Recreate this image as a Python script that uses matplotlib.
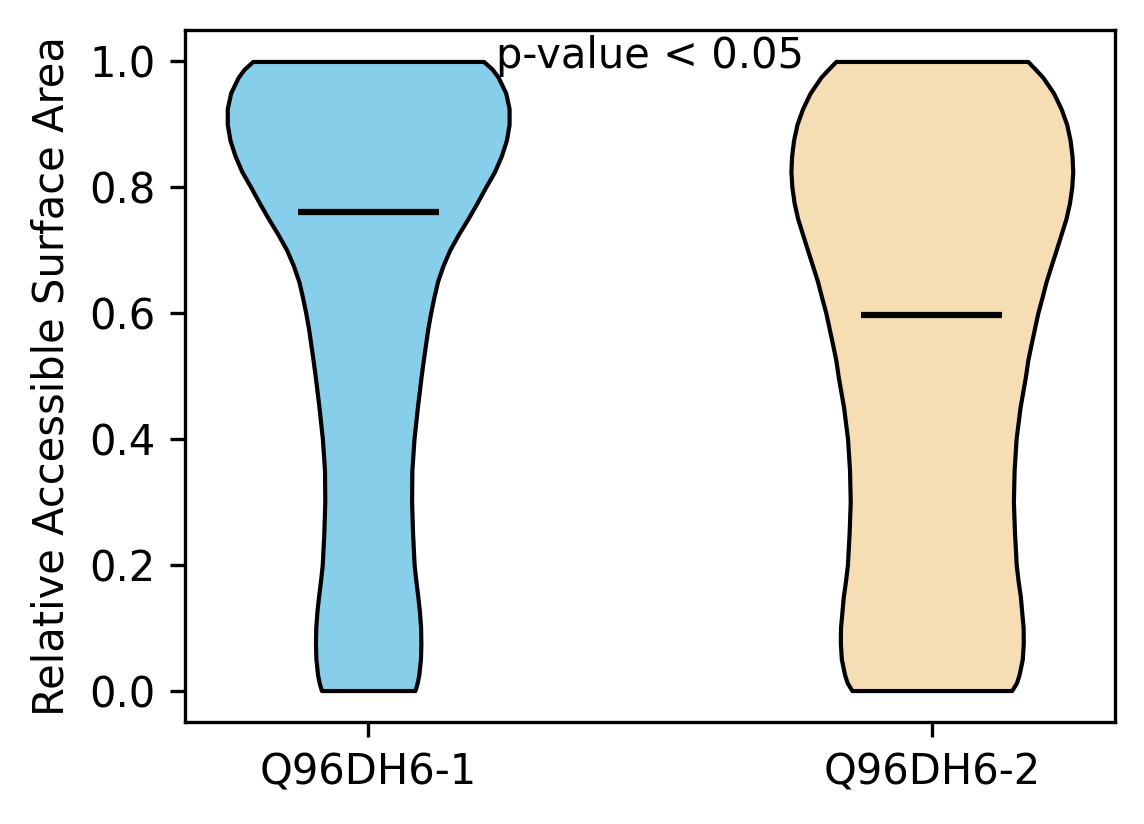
import numpy as np
import matplotlib
matplotlib.use('Agg')
import matplotlib.pyplot as plt

labels = ['Q96DH6-1', 'Q96DH6-2']
colors = ['skyblue', 'wheat']

# RSA grid (shared by both proteins) and relative density
rsa_grid = [0.0, 0.0125, 0.025, 0.05, 0.075, 0.10, 0.125, 0.15, 0.175, 0.20,
            0.25, 0.30, 0.35, 0.40, 0.45, 0.50, 0.525, 0.55, 0.575, 0.60,
            0.625, 0.65, 0.675, 0.70, 0.725, 0.75, 0.775, 0.80, 0.825, 0.85,
            0.875, 0.90, 0.925, 0.95, 0.975, 0.9875, 1.0]

density_1 = [0.332, 0.348, 0.359, 0.371, 0.374, 0.372, 0.364, 0.352, 0.338, 0.326,
             0.315, 0.308, 0.310, 0.325, 0.349, 0.376, 0.391, 0.407, 0.423, 0.443,
             0.466, 0.492, 0.530, 0.578, 0.640, 0.708, 0.772, 0.833, 0.897, 0.945,
             0.981, 1.000, 1.000, 0.976, 0.922, 0.881, 0.819]

density_2 = [0.567, 0.601, 0.619, 0.642, 0.649, 0.648, 0.638, 0.628, 0.612, 0.599,
             0.587, 0.579, 0.584, 0.598, 0.626, 0.665, 0.681, 0.704, 0.728, 0.752,
             0.782, 0.811, 0.846, 0.882, 0.917, 0.952, 0.977, 0.993, 1.000, 0.995,
             0.981, 0.957, 0.917, 0.863, 0.787, 0.735, 0.681]

centre_1 = 0.760
centre_2 = 0.597

stats = []
for dens, c in [(density_1, centre_1), (density_2, centre_2)]:
    stats.append({
        'coords': np.array(rsa_grid),
        'vals': np.array(dens),
        'mean': c,
        'median': c,
        'min': rsa_grid[0],
        'max': rsa_grid[-1],
    })

fig = plt.figure(figsize=(1144 / 300, 824 / 300), dpi=300)
ax = fig.add_axes([185 / 1144, 1 - 722 / 824, (1115 - 185) / 1144, (722 - 30) / 824])

parts = ax.violin(stats, positions=[1, 2], widths=0.5,
                  showmeans=False, showextrema=False, showmedians=True)

for body, col in zip(parts['bodies'], colors):
    body.set_facecolor(col)
    body.set_edgecolor('black')
    body.set_linewidth(1)
    body.set_alpha(1)

parts['cmedians'].set_color('black')
parts['cmedians'].set_linewidth(1.5)

ax.set_xticks([1, 2])
ax.set_xticklabels(labels)
ax.set_ylabel('Relative Accessible Surface Area')
ax.text(1.5, 1.008, 'p-value < 0.05', ha='center', va='center')

fig.savefig('out.png', dpi=300)
